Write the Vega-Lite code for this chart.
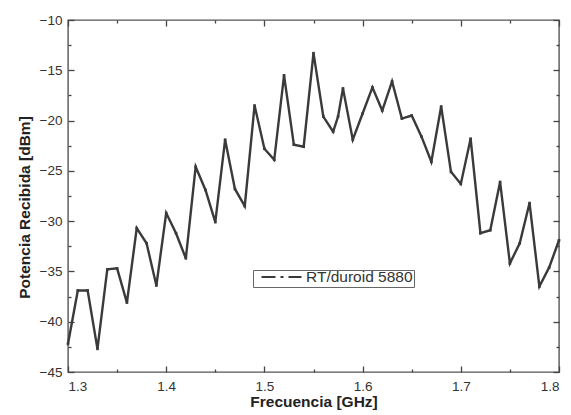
{
  "$schema": "https://vega.github.io/schema/vega-lite/v6.json",
  "width": 491,
  "height": 352,
  "autosize": {"type": "none"},
  "padding": {"left": 68, "top": 20, "right": 12, "bottom": 43},
  "background": "white",
  "config": {
    "view": {"stroke": "#555555", "strokeWidth": 1.4},
    "axis": {"grid": false, "domain": false, "tickColor": "#444444", "tickWidth": 1.3, "labelFont": "Liberation Sans", "titleFont": "Liberation Sans", "labelColor": "#333333", "titleColor": "#222222", "labelFontSize": 13.5, "titleFontSize": 15.5, "titleFontWeight": "bold"}
  },
  "data": {"values": [
    {"f": 1.30, "p": -42.2, "s": "RT/duroid 5880"},
    {"f": 1.31, "p": -36.9, "s": "RT/duroid 5880"},
    {"f": 1.32, "p": -36.9, "s": "RT/duroid 5880"},
    {"f": 1.33, "p": -42.7, "s": "RT/duroid 5880"},
    {"f": 1.34, "p": -34.8, "s": "RT/duroid 5880"},
    {"f": 1.35, "p": -34.7, "s": "RT/duroid 5880"},
    {"f": 1.36, "p": -38.1, "s": "RT/duroid 5880"},
    {"f": 1.37, "p": -30.7, "s": "RT/duroid 5880"},
    {"f": 1.38, "p": -32.2, "s": "RT/duroid 5880"},
    {"f": 1.39, "p": -36.4, "s": "RT/duroid 5880"},
    {"f": 1.40, "p": -29.2, "s": "RT/duroid 5880"},
    {"f": 1.41, "p": -31.2, "s": "RT/duroid 5880"},
    {"f": 1.42, "p": -33.7, "s": "RT/duroid 5880"},
    {"f": 1.43, "p": -24.6, "s": "RT/duroid 5880"},
    {"f": 1.44, "p": -26.9, "s": "RT/duroid 5880"},
    {"f": 1.45, "p": -30.1, "s": "RT/duroid 5880"},
    {"f": 1.46, "p": -21.9, "s": "RT/duroid 5880"},
    {"f": 1.47, "p": -26.8, "s": "RT/duroid 5880"},
    {"f": 1.48, "p": -28.5, "s": "RT/duroid 5880"},
    {"f": 1.49, "p": -18.5, "s": "RT/duroid 5880"},
    {"f": 1.50, "p": -22.8, "s": "RT/duroid 5880"},
    {"f": 1.51, "p": -23.9, "s": "RT/duroid 5880"},
    {"f": 1.52, "p": -15.5, "s": "RT/duroid 5880"},
    {"f": 1.53, "p": -22.4, "s": "RT/duroid 5880"},
    {"f": 1.54, "p": -22.6, "s": "RT/duroid 5880"},
    {"f": 1.55, "p": -13.3, "s": "RT/duroid 5880"},
    {"f": 1.56, "p": -19.6, "s": "RT/duroid 5880"},
    {"f": 1.57, "p": -21.1, "s": "RT/duroid 5880"},
    {"f": 1.575, "p": -19.6, "s": "RT/duroid 5880"},
    {"f": 1.58, "p": -16.8, "s": "RT/duroid 5880"},
    {"f": 1.59, "p": -21.9, "s": "RT/duroid 5880"},
    {"f": 1.60, "p": -19.3, "s": "RT/duroid 5880"},
    {"f": 1.61, "p": -16.7, "s": "RT/duroid 5880"},
    {"f": 1.62, "p": -19.0, "s": "RT/duroid 5880"},
    {"f": 1.63, "p": -16.1, "s": "RT/duroid 5880"},
    {"f": 1.64, "p": -19.8, "s": "RT/duroid 5880"},
    {"f": 1.65, "p": -19.5, "s": "RT/duroid 5880"},
    {"f": 1.66, "p": -21.6, "s": "RT/duroid 5880"},
    {"f": 1.67, "p": -24.1, "s": "RT/duroid 5880"},
    {"f": 1.68, "p": -18.6, "s": "RT/duroid 5880"},
    {"f": 1.69, "p": -25.1, "s": "RT/duroid 5880"},
    {"f": 1.70, "p": -26.3, "s": "RT/duroid 5880"},
    {"f": 1.71, "p": -21.8, "s": "RT/duroid 5880"},
    {"f": 1.72, "p": -31.2, "s": "RT/duroid 5880"},
    {"f": 1.73, "p": -30.9, "s": "RT/duroid 5880"},
    {"f": 1.74, "p": -26.1, "s": "RT/duroid 5880"},
    {"f": 1.75, "p": -34.2, "s": "RT/duroid 5880"},
    {"f": 1.76, "p": -32.2, "s": "RT/duroid 5880"},
    {"f": 1.77, "p": -28.2, "s": "RT/duroid 5880"},
    {"f": 1.78, "p": -36.5, "s": "RT/duroid 5880"},
    {"f": 1.79, "p": -34.6, "s": "RT/duroid 5880"},
    {"f": 1.80, "p": -31.9, "s": "RT/duroid 5880"}
  ]},
  "resolve": {"axis": {"x": "independent", "y": "independent"}},
  "layer": [
    {
      "mark": {"type": "line", "strokeWidth": 2.4, "point": {"shape": "square", "size": 7, "filled": true}},
      "encoding": {
        "x": {"field": "f", "type": "quantitative", "scale": {"domain": [1.3, 1.8], "nice": false, "zero": false},
          "axis": {"orient": "bottom", "values": [1.3, 1.4, 1.5, 1.6, 1.7, 1.8], "format": ".1f", "ticks": false, "labelPadding": 7, "title": "Frecuencia [GHz]", "titlePadding": 2}},
        "y": {"field": "p", "type": "quantitative", "scale": {"domain": [-45, -10], "nice": false, "zero": false},
          "axis": {"orient": "left", "values": [-45, -40, -35, -30, -25, -20, -15, -10], "ticks": false, "labelPadding": 6, "title": "Potencia Recibida [dBm]", "titlePadding": 7, "titleY": 187}},
        "color": {"field": "s", "type": "nominal", "scale": {"range": ["#3a3a3a"]},
          "legend": {"title": null, "orient": "none", "legendX": 185, "legendY": 250, "symbolType": "stroke", "symbolSize": 1600, "symbolStrokeWidth": 2.2, "symbolDash": [14, 5, 3, 5], "symbolOffset": 6, "clipHeight": 12, "labelFont": "Liberation Sans", "labelFontSize": 15.5, "labelColor": "#333333", "strokeColor": "#666666", "padding": 1, "labelOffset": 3}}
      }
    },
    {
      "mark": {"type": "line", "opacity": 0},
      "encoding": {
        "x": {"field": "f", "type": "quantitative", "axis": {"orient": "bottom", "values": [1.3, 1.4, 1.5, 1.6, 1.7, 1.8], "labels": false, "offset": -6, "tickSize": 6, "title": null}},
        "y": {"field": "p", "type": "quantitative", "axis": {"orient": "left", "values": [-45, -40, -35, -30, -25, -20, -15, -10], "labels": false, "offset": -6, "tickSize": 6, "title": null}}
      }
    },
    {
      "mark": {"type": "line", "opacity": 0},
      "encoding": {
        "x": {"field": "f", "type": "quantitative", "axis": {"orient": "bottom", "values": [1.35, 1.45, 1.55, 1.65, 1.75], "labels": false, "offset": -3, "tickSize": 3, "title": null}},
        "y": {"field": "p", "type": "quantitative", "axis": {"orient": "left", "values": [-42.5, -37.5, -32.5, -27.5, -22.5, -17.5, -12.5], "labels": false, "offset": -3, "tickSize": 3, "title": null}}
      }
    },
    {
      "mark": {"type": "line", "opacity": 0},
      "encoding": {
        "x": {"field": "f", "type": "quantitative", "axis": {"orient": "top", "values": [1.3, 1.4, 1.5, 1.6, 1.7, 1.8], "labels": false, "offset": -6, "tickSize": 6, "title": null}},
        "y": {"field": "p", "type": "quantitative", "axis": {"orient": "right", "values": [-45, -40, -35, -30, -25, -20, -15, -10], "labels": false, "offset": -6, "tickSize": 6, "title": null}}
      }
    },
    {
      "mark": {"type": "line", "opacity": 0},
      "encoding": {
        "x": {"field": "f", "type": "quantitative", "axis": {"orient": "top", "values": [1.35, 1.45, 1.55, 1.65, 1.75], "labels": false, "offset": -3, "tickSize": 3, "title": null}},
        "y": {"field": "p", "type": "quantitative", "axis": {"orient": "right", "values": [-42.5, -37.5, -32.5, -27.5, -22.5, -17.5, -12.5], "labels": false, "offset": -3, "tickSize": 3, "title": null}}
      }
    }
  ]
}
